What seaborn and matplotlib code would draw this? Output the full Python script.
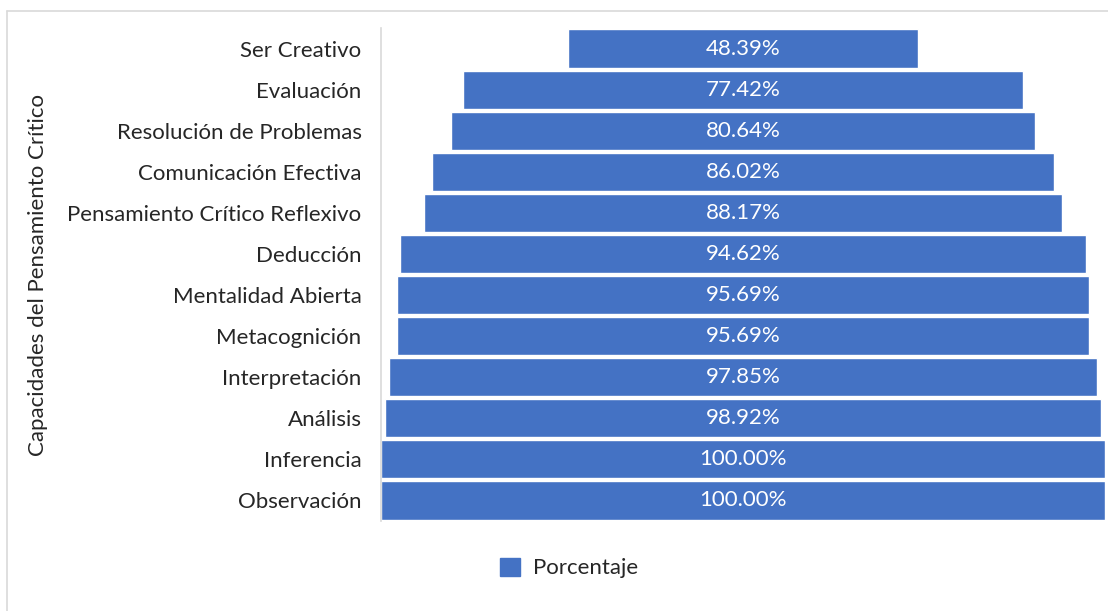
import pandas as pd
import seaborn as sns
import matplotlib.pyplot as plt
from matplotlib.patches import Patch
from matplotlib.lines import Line2D

capacidades = ["Ser Creativo", "Evaluación", "Resolución de Problemas",
               "Comunicación Efectiva", "Pensamiento Crítico Reflexivo",
               "Deducción", "Mentalidad Abierta", "Metacognición",
               "Interpretación", "Análisis", "Inferencia", "Observación"]
porcentaje = [48.39, 77.42, 80.64, 86.02, 88.17, 94.62,
              95.69, 95.69, 97.85, 98.92, 100.00, 100.00]

df = pd.DataFrame({"Capacidad": capacidades, "Porcentaje": porcentaje})
df["offset"] = (100 - df["Porcentaje"]) / 2

sns.set_style("white")
plt.rcParams["font.family"] = ["Lato", "DejaVu Sans"]
blue = "#4472c4"
fs = 16

fig = plt.figure(figsize=(11.08, 6.11), dpi=100)
ax = fig.add_axes([381 / 1108, 1 - 521 / 611, 724 / 1108, 493 / 611])

sns.barplot(data=df, x="Porcentaje", y="Capacidad", orient="h",
            color=blue, saturation=1, width=0.93, ax=ax)

# shift each bar so the chart becomes a centred funnel
for patch, off in zip(ax.patches, df["offset"]):
    patch.set_x(off)

for i, (v, off) in enumerate(zip(df["Porcentaje"], df["offset"])):
    ax.text(off + v / 2, i, f"{v:.2f}%", color="white", ha="center",
            va="center", fontsize=fs)

ax.set_xlim(0, 100)
ax.set_ylim(11.5, -0.5)
ax.set_xticks([])
ax.set_xlabel("")
ax.set_ylabel("Capacidades del Pensamiento Crítico", fontsize=fs)
ax.yaxis.set_label_coords((48 - 381) / 724, 0.5)
ax.tick_params(axis="y", length=0, labelsize=fs, pad=14)
for side in ["top", "right", "bottom"]:
    ax.spines[side].set_visible(False)
ax.spines["left"].set_color("#d9d9d9")
ax.spines["left"].set_linewidth(1.2)

fig.legend(handles=[Patch(color=blue, label="Porcentaje")],
           loc="center", bbox_to_anchor=(569 / 1108, 1 - 568 / 611),
           frameon=False, fontsize=fs, handlelength=0.9, handleheight=0.9,
           handletextpad=0.6)

# chart border
fig.add_artist(Line2D([7 / 1108, 1], [1 - 11 / 611, 1 - 11 / 611],
                      transform=fig.transFigure, color="#d9d9d9", lw=1.2))
fig.add_artist(Line2D([7 / 1108, 7 / 1108], [0, 1 - 11 / 611],
                      transform=fig.transFigure, color="#d9d9d9", lw=1.2))

fig.savefig("out.png", dpi=100)
